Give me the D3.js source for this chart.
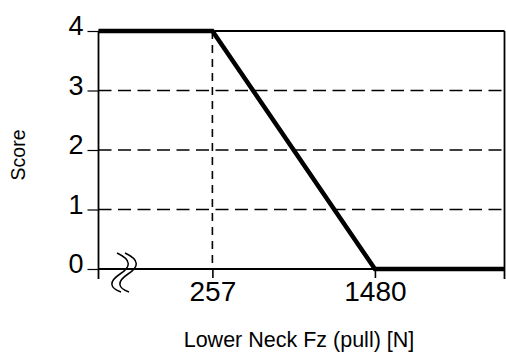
<!DOCTYPE html>
<html>
<head>
<meta charset="utf-8">
<script src="https://cdn.jsdelivr.net/npm/d3@7"></script>
<style>
  html, body { margin: 0; padding: 0; background: #fff; }
  svg { display: block; }
  text { font-family: "Liberation Sans", Arial, sans-serif; fill: #000; }
</style>
</head>
<body>
<svg id="chart" width="506" height="353"></svg>
<script>
// ---- data ----
const xDomain = [-600, 2455];          // broken axis: visible force range (N)
const yTicks = [0, 1, 2, 3, 4];
const xTicks = [257, 1480];
const gridScores = [1, 2, 3];
const curveX = [-600, 257, 1480, 2455];
const curveY = [4, 4, 0, 0];
const xLabel = "Lower Neck Fz (pull) [N]";
const yLabel = "Score";

const svg = d3.select("#chart");
const L = 98.5, R = 504.5, T = 31, B = 269;
const x = d3.scaleLinear().domain(xDomain).range([L, R]);
const y = d3.scaleLinear().domain([0, 4]).range([B, T]);

// horizontal dashed grid
svg.append("g").selectAll("line").data(gridScores).join("line")
  .attr("x1", L).attr("x2", R)
  .attr("y1", d => y(d)).attr("y2", d => y(d))
  .attr("stroke", "#000").attr("stroke-width", 1.6)
  .attr("stroke-dasharray", "13,6.5");

// vertical dashed line at 257
svg.append("line")
  .attr("x1", x(257)).attr("x2", x(257))
  .attr("y1", y(4)).attr("y2", y(0))
  .attr("stroke", "#000").attr("stroke-width", 1.6)
  .attr("stroke-dasharray", "8,6");

// frame: left axis, top, right, bottom
const frame = svg.append("g").attr("stroke", "#000").attr("stroke-width", 1.8).attr("fill", "none");
frame.append("line").attr("x1", L).attr("x2", L).attr("y1", T).attr("y2", B + 10);
frame.append("line").attr("x1", R).attr("x2", R).attr("y1", T).attr("y2", B + 10);
frame.append("line").attr("x1", L).attr("x2", R).attr("y1", T).attr("y2", T);
frame.append("line").attr("x1", L).attr("x2", R).attr("y1", B).attr("y2", B);

// y axis
const yAxis = d3.axisLeft(y).tickValues(yTicks).tickSize(11).tickPadding(4).tickFormat(d3.format("d"));
const gy = svg.append("g").attr("transform", `translate(${L},0)`).call(yAxis);
gy.select(".domain").remove();
gy.selectAll(".tick line").attr("stroke", "#000").attr("stroke-width", 1.2);
gy.selectAll(".tick text").attr("font-size", 27).attr("dy", "0.32em").attr("y", -5)
  .attr("font-family", "Liberation Sans, Arial, sans-serif");

// x axis
const xAxis = d3.axisBottom(x).tickValues(xTicks).tickSize(9).tickPadding(3).tickFormat(d3.format("d"));
const gx = svg.append("g").attr("transform", `translate(0,${B})`).call(xAxis);
gx.select(".domain").remove();
gx.selectAll(".tick line").attr("stroke", "#000").attr("stroke-width", 1.6);
gx.selectAll(".tick text").attr("font-size", 28)
  .attr("font-family", "Liberation Sans, Arial, sans-serif");

// score curve
const line = d3.line().x((d, i) => x(curveX[i])).y((d, i) => y(curveY[i]));
svg.append("path").datum(curveX).attr("d", line)
  .attr("fill", "none").attr("stroke", "#000").attr("stroke-width", 4.5)
  .attr("stroke-linejoin", "miter");

// axis break symbol
const brk = svg.append("g").attr("fill", "none").attr("stroke", "#000").attr("stroke-width", 1.5);
[0, 8].forEach(o => {
  brk.append("path").attr("d",
    `M${117 + o},253 C${132 + o},260 ${131 + o},267 ${120 + o},274 C${108 + o},282 ${110 + o},288 ${121 + o},292`);
});

// axis titles
svg.append("text").attr("x", 299).attr("y", 347).attr("text-anchor", "middle")
  .attr("font-size", 21.5).text(xLabel);
svg.append("text").attr("transform", "translate(25,155) rotate(-90)").attr("text-anchor", "middle")
  .attr("font-size", 19.5).text(yLabel);
</script>
</body>
</html>
